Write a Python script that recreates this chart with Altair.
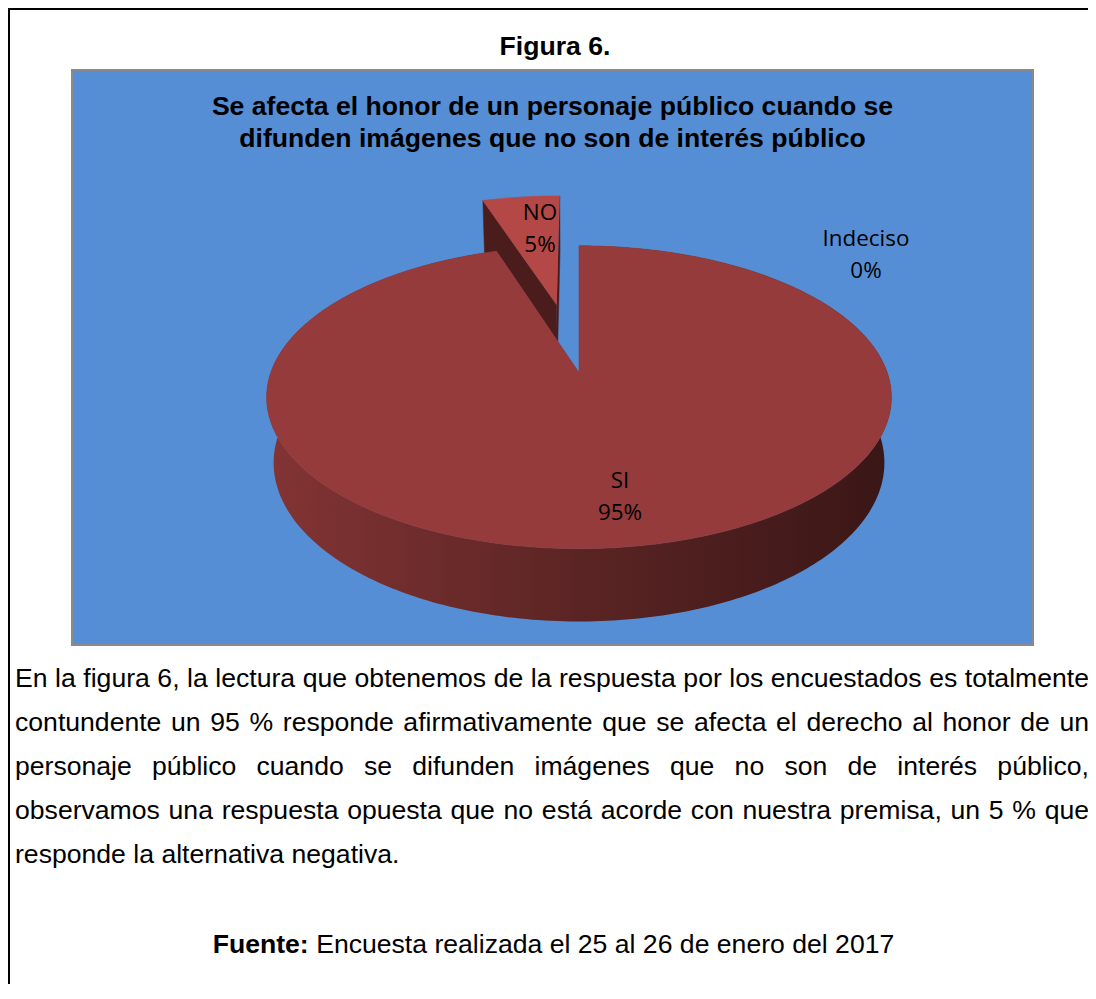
import altair as alt
import numpy as np
import pandas as pd

# ---------------- data ----------------
categories = ["SI", "NO", "Indeciso"]
percentages = [95, 5, 0]

figure_title = "Figura 6."
chart_title_lines = [
    "Se afecta el honor de un personaje público cuando se",
    "difunden imágenes que no son de interés público",
]
paragraph_lines = [
    "En la figura 6, la lectura que obtenemos de la respuesta por los encuestados es totalmente",
    "contundente un 95 % responde afirmativamente que se afecta el derecho al honor de un",
    "personaje público cuando se difunden imágenes que no son de interés público,",
    "observamos una respuesta opuesta que no está acorde con nuestra premisa, un 5 % que",
    "responde la alternativa negativa.",
]
source_label = "Fuente:"
source_text = "Encuesta realizada el 25 al 26 de enero del 2017"

# ---------------- layout ----------------
W, H = 1080, 976
X0, Y0 = 8, 8
xs = alt.Scale(domain=[X0, X0 + W], nice=False, zero=False)
ys = alt.Scale(domain=[Y0, Y0 + H], nice=False, zero=False, reverse=True)

# 3D pie projection
CX, CY, R = 579.0, 372.0, 308.0
SIN_A, COS_A = 0.478, 0.878
DIST, DEPTH = 5.27, 0.245
EXPLODE = {"NO": 0.5}
TOP_COLOR = {"SI": "#953B3B", "NO": "#B44846", "Indeciso": "#4F81BD"}
SIDE_COLOR = "#4A1C1C"
WALL_FILL = alt.LinearGradient(
    gradient="linear",
    stops=[alt.GradientStop(color="#833434", offset=0),
           alt.GradientStop(color="#5B2424", offset=0.5),
           alt.GradientStop(color="#3A1616", offset=1)],
    x1=0, x2=1, y1=0, y2=0)


def proj(u, v, z):
    w = DIST + v * COS_A - z * SIN_A
    f = DIST / w
    return CX + R * u * f, CY - R * f * (v * SIN_A + z * COS_A)


def arc(a0, a1, du, dv, z, n):
    return [proj(du + np.sin(t), dv + np.cos(t), z) for t in np.radians(np.linspace(a0, a1, n))]


cam = np.array([0.0, -DIST * COS_A])
rows = []
styles = []   # (name, fill, stroke, strokeWidth, depth-key, sub-order)


def add_poly(name, pts, fill, stroke, sw, key, sub):
    for i, (x, y) in enumerate(pts):
        rows.append({"part": name, "i": i, "x": float(x), "y": float(y)})
    styles.append((name, fill, stroke, sw, key, sub))


total = float(sum(percentages))
cum = 0.0
for cat, val in zip(categories, percentages):
    a0 = 360.0 * cum / total
    cum += val
    a1 = 360.0 * cum / total
    if val <= 0:
        continue
    mid = np.radians((a0 + a1) / 2)
    e = EXPLODE.get(cat, 0.0)
    du, dv = e * np.sin(mid), e * np.cos(mid)
    n = max(int(a1 - a0) + 2, 4)
    key = -(dv + 0.66 * np.cos(mid))
    # radial faces
    for ang, sgn in ((a0, -1), (a1, 1)):
        nr = np.radians(ang + sgn * 90)
        normal = np.array([np.sin(nr), np.cos(nr)])
        if normal.dot(cam - np.array([du, dv])) > 1e-6:
            r = np.radians(ang)
            pts = [proj(du, dv, 0), proj(du + np.sin(r), dv + np.cos(r), 0),
                   proj(du + np.sin(r), dv + np.cos(r), -DEPTH), proj(du, dv, -DEPTH)]
            add_poly(f"{cat}_face{int(ang)}", pts, SIDE_COLOR, SIDE_COLOR, 0.5, key, 0)
    # outer wall (only the slice that reaches the front)
    if np.cos(mid) < 0:
        wall = arc(a0, a1, du, dv, 0, n) + arc(a1, a0, du, dv, -DEPTH, n)
        add_poly(f"{cat}_wall", wall, WALL_FILL, "#3A1616", 0, key, 1)
    top = [proj(du, dv, 0)] + arc(a0, a1, du, dv, 0, n)
    add_poly(f"{cat}_top", top, TOP_COLOR[cat], TOP_COLOR[cat], 0.6, key, 2)

poly_df = pd.DataFrame(rows)
styles.sort(key=lambda s: (s[4], s[5]))

pie_layers = []
for name, fill, stroke, sw, _, _ in styles:
    pie_layers.append(
        alt.Chart(poly_df)
        .transform_filter(alt.datum.part == name)
        .mark_line(fill=fill, stroke=stroke, strokeWidth=sw, strokeJoin="round")
        .encode(x=alt.X("x:Q", scale=xs, axis=None),
                y=alt.Y("y:Q", scale=ys, axis=None),
                order=alt.Order("i:Q"))
    )

# ---------------- text metrics (Arial / Liberation Sans) ----------------
REG = {' ': 278, ',': 278, '.': 278, '%': 889, ':': 278}
REG.update({d: 556 for d in "0123456789"})
REG.update(dict(zip("abcdefghijklmnopqrstuvwxyz",
                    [556, 556, 500, 556, 556, 278, 556, 556, 222, 222, 500, 222, 833,
                     556, 556, 556, 556, 333, 500, 278, 556, 500, 722, 500, 500, 500])))
REG.update({'á': 556, 'é': 556, 'ó': 556, 'ú': 556, 'í': 278, 'E': 667, 'F': 611, 'S': 667})
BOLD = {' ': 278, ':': 333, '.': 278, 'F': 611, 'u': 611, 'e': 556, 'n': 611, 't': 333}


def tw(s, size, table):
    return sum(table.get(c, 556) for c in s) * size / 1000.0


FS = 26.6
LEFT, RIGHT = 15.0, 1089.0
BASE0, LEAD = 687.0, 44.0

word_rows = []
for k, line in enumerate(paragraph_lines):
    words = line.split(" ")
    widths = [tw(wd, FS, REG) for wd in words]
    last = k == len(paragraph_lines) - 1
    gap = tw(" ", FS, REG) if last else (RIGHT - LEFT - sum(widths)) / (len(words) - 1)
    x = LEFT
    for wd, wdt in zip(words, widths):
        word_rows.append({"text": wd, "x": x, "y": BASE0 + k * LEAD})
        x += wdt + gap
words_df = pd.DataFrame(word_rows)


def text_layer(df, size, weight="normal", align="left", font="Liberation Sans"):
    return alt.Chart(df).mark_text(
        align=align, baseline="alphabetic", font=font, fontSize=size,
        fontWeight=weight, color="#000000"
    ).encode(x=alt.X("x:Q", scale=xs, axis=None),
             y=alt.Y("y:Q", scale=ys, axis=None),
             text="text:N")


para = text_layer(words_df, FS)

# source line (bold label + regular text, centred together)
src_cx, src_base = 553.5, 953.0
wb = tw(source_label, FS, BOLD)
wsp = tw(" ", FS, REG)
wr = tw(source_text, FS, REG)
src_x0 = src_cx - (wb + wsp + wr) / 2
src_bold = text_layer(pd.DataFrame({"text": [source_label], "x": [src_x0], "y": [src_base]}), FS, "bold")
src_reg = text_layer(pd.DataFrame({"text": [source_text], "x": [src_x0 + wb + wsp], "y": [src_base]}), FS)

fig_title = text_layer(pd.DataFrame({"text": [figure_title], "x": [555.0], "y": [55.0]}), FS, "bold", "center")
ch_title = text_layer(pd.DataFrame({"text": chart_title_lines, "x": [552.5, 552.5], "y": [115.0, 147.0]}),
                      FS, "bold", "center")

# data labels
LABEL_POS = {"SI": (620.0, 488.0), "NO": (540.0, 220.0), "Indeciso": (866.0, 246.0)}
lab_rows = []
for cat, val in zip(categories, percentages):
    lx, ly = LABEL_POS[cat]
    lab_rows.append({"text": cat, "x": lx, "y": ly})
    lab_rows.append({"text": f"{val}%", "x": lx, "y": ly + 32})
labels = text_layer(pd.DataFrame(lab_rows), 22.4, "normal", "center", "Open Sans")

# frames
one = pd.DataFrame({"k": [0]})
border_left = alt.Chart(one).mark_rect(color="#000000").encode(
    x=alt.value(0), x2=alt.value(2), y=alt.value(0), y2=alt.value(H))
border_top = alt.Chart(one).mark_rect(color="#000000").encode(
    x=alt.value(0), x2=alt.value(W), y=alt.value(0), y2=alt.value(2))
plot_box = alt.Chart(one).mark_rect(fill="#558ED5", stroke="#8A8A8A", strokeWidth=2).encode(
    x=alt.value(72 - X0), x2=alt.value(1033 - X0), y=alt.value(70 - Y0), y2=alt.value(645 - Y0))

chart = alt.layer(
    border_left, border_top, plot_box, *pie_layers,
    labels, fig_title, ch_title, para, src_bold, src_reg
).properties(
    width=W, height=H,
    autosize=alt.AutoSizeParams(type="none"),
    padding=0,
    background="#FFFFFF",
).configure_view(stroke="transparent", strokeWidth=0)

chart.save("out.html", embed_options={"renderer": "svg", "actions": False})
